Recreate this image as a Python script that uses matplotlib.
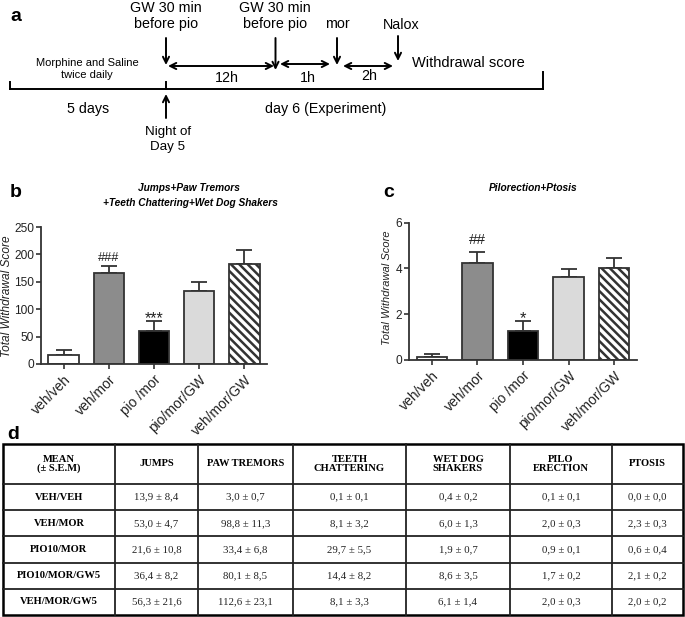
import matplotlib
matplotlib.use('Agg')
import matplotlib.pyplot as plt
from matplotlib.patches import Rectangle

plt.rcParams['font.family'] = ['Liberation Sans', 'DejaVu Sans']
plt.rcParams['hatch.linewidth'] = 1.8

# ---------------- data ----------------
groups = ['veh/veh', 'veh/mor', 'pio /mor', 'pio/mor/GW', 'veh/mor/GW']
b_means = [17, 166, 61, 133, 182]
b_sem = [9, 13, 18, 17, 26]
b_marks = ['', '###', '***', '', '']
c_means = [0.15, 4.26, 1.28, 3.64, 4.03]
c_sem = [0.13, 0.46, 0.42, 0.33, 0.41]
c_marks = ['', '##', '*', '', '']
b_yticks = [0, 50, 100, 150, 200, 250]
c_yticks = [0, 2, 4, 6]

table_header = ['MEAN\n(\u00b1 S.E.M)', 'JUMPS', 'PAW TREMORS', 'TEETH\nCHATTERING',
                'WET DOG\nSHAKERS', 'PILO\nERECTION', 'PTOSIS']
table_rows = ['VEH/VEH', 'VEH/MOR', 'PIO10/MOR', 'PIO10/MOR/GW5', 'VEH/MOR/GW5']
jumps = ['13,9 \u00b1 8,4', '53,0 \u00b1 4,7', '21,6 \u00b1 10,8', '36,4 \u00b1 8,2', '56,3 \u00b1 21,6']
paw = ['3,0 \u00b1 0,7', '98,8 \u00b1 11,3', '33,4 \u00b1 6,8', '80,1 \u00b1 8,5', '112,6 \u00b1 23,1']
teeth = ['0,1 \u00b1 0,1', '8,1 \u00b1 3,2', '29,7 \u00b1 5,5', '14,4 \u00b1 8,2', '8,1 \u00b1 3,3']
wetdog = ['0,4 \u00b1 0,2', '6,0 \u00b1 1,3', '1,9 \u00b1 0,7', '8,6 \u00b1 3,5', '6,1 \u00b1 1,4']
pilo = ['0,1 \u00b1 0,1', '2,0 \u00b1 0,3', '0,9 \u00b1 0,1', '1,7 \u00b1 0,2', '2,0 \u00b1 0,3']
ptosis = ['0,0 \u00b1 0,0', '2,3 \u00b1 0,3', '0,6 \u00b1 0,4', '2,1 \u00b1 0,2', '2,0 \u00b1 0,2']

# ---------------- figure ----------------
W, H = 685, 617
fig = plt.figure(figsize=(W / 100, H / 100), dpi=100)
ov = fig.add_axes([0, 0, 1, 1], zorder=0)
ov.set_xlim(0, W)
ov.set_ylim(H, 0)
ov.axis('off')


def rect(l, r, top, bottom):
    return [l / W, 1 - bottom / H, (r - l) / W, (bottom - top) / H]


def arrow(x0, y0, x1, y1, style='->'):
    ov.annotate('', xy=(x1, y1), xytext=(x0, y0),
                arrowprops=dict(arrowstyle=style, lw=1.4, color='black',
                                shrinkA=0, shrinkB=0, mutation_scale=11))


# ---------------- panel a ----------------
fs_a = 10.3
ov.text(10, 21, 'a', fontsize=14, fontweight='bold', va='baseline')
ov.plot([10, 543], [89, 89], color='black', lw=1.4)
ov.plot([10, 10], [82, 89], color='black', lw=1.4)
ov.plot([166, 166], [82, 89], color='black', lw=1.4)
ov.plot([543, 543], [72, 89], color='black', lw=1.4)

ov.text(87, 66, 'Morphine and Saline', fontsize=8, ha='center', va='baseline')
ov.text(87, 77.5, 'twice daily', fontsize=8, ha='center', va='baseline')
ov.text(88, 113, '5 days', fontsize=fs_a, ha='center', va='baseline')
ov.text(326, 113, 'day 6 (Experiment)', fontsize=fs_a, ha='center', va='baseline')
ov.text(168, 135, 'Night of', fontsize=9.6, ha='center', va='baseline')
ov.text(168, 150, 'Day 5', fontsize=9.6, ha='center', va='baseline')
arrow(166, 118, 166, 94)

for xc in (166, 275):
    ov.text(xc, 12, 'GW 30 min', fontsize=fs_a, ha='center', va='baseline')
    ov.text(xc, 28, 'before pio', fontsize=fs_a, ha='center', va='baseline')
ov.text(337, 28, 'mor', fontsize=fs_a, ha='center', va='baseline')
ov.text(401, 29, 'Nalox', fontsize=fs_a, ha='center', va='baseline')
ov.text(412, 67, 'Withdrawal score', fontsize=10.5, ha='left', va='baseline')

arrow(166, 38, 166, 65)
arrow(275.5, 38, 275.5, 70)
arrow(337, 38, 337, 65)
arrow(398, 36, 398, 61)

arrow(168, 66, 274, 66, '<->')
arrow(280, 64, 330, 64, '<->')
arrow(343, 66, 393, 66, '<->')
ov.text(227, 82, '12h', fontsize=fs_a, ha='center', va='baseline')
ov.text(308, 82, '1h', fontsize=fs_a, ha='center', va='baseline')
ov.text(369, 80, '2h', fontsize=fs_a, ha='center', va='baseline')

# ---------------- panels b, c ----------------
fills = ['white', '#8c8c8c', 'black', '#dadada', 'white']
edge = '#333333'


def bar_panel(r, means, sems, marks, ylim, yticks, hash_fs, star_fs, hash_off):
    ax = fig.add_axes(r, zorder=2)
    ax.set_facecolor('none')
    x = list(range(len(groups)))
    bars = ax.bar(x, means, width=0.67, color=fills, edgecolor=edge,
                  linewidth=1.3, zorder=2)
    bars[-1].set_hatch('\\\\\\\\')
    ax.errorbar(x, means, yerr=[[0] * len(sems), sems], fmt='none',
                ecolor=edge, elinewidth=1.3, capsize=5.5, capthick=1.3, zorder=1)
    for i, m in enumerate(marks):
        if m:
            is_hash = m.startswith('#')
            ax.annotate(m, (i, means[i] + sems[i]),
                        xytext=(0, hash_off if is_hash else -1.5),
                        textcoords='offset points', ha='center', va='baseline',
                        fontsize=hash_fs if is_hash else star_fs, color='#222222')
    ax.set_xlim(-0.5, 4.5)
    ax.set_ylim(*ylim)
    ax.set_yticks(yticks)
    ax.set_xticks(x)
    ax.set_xticklabels(groups, rotation=45, ha='right', rotation_mode='anchor')
    for s in ('top', 'right'):
        ax.spines[s].set_visible(False)
    for s in ('left', 'bottom'):
        ax.spines[s].set_color(edge)
        ax.spines[s].set_linewidth(1.3)
    ax.tick_params(axis='both', direction='out', length=3.5, width=1.2,
                   color=edge, labelcolor='#222222')
    ax.tick_params(axis='y', labelsize=8.6, pad=1.5)
    ax.tick_params(axis='x', labelsize=10, pad=2.5)
    return ax


bar_panel(rect(41, 267, 227, 364), b_means, b_sem, b_marks, (0, 250),
          b_yticks, 9.2, 11.5, 3.7)
bar_panel(rect(409, 637, 222.7, 360), c_means, c_sem, c_marks, (0, 6),
          c_yticks, 11, 12, 5.8)

ov.text(10, 197, 'b', fontsize=14, fontweight='bold', va='baseline')
ov.text(383, 197, 'c', fontsize=14, fontweight='bold', va='baseline')
ov.text(189, 191, 'Jumps+Paw Tremors', fontsize=7.3, fontweight='bold',
        fontstyle='italic', ha='center', va='baseline')
ov.text(190, 206, '+Teeth Chattering+Wet Dog Shakers', fontsize=7.3,
        fontweight='bold', fontstyle='italic', ha='center', va='baseline')
ov.text(533, 191, 'Pilorection+Ptosis', fontsize=7.3, fontweight='bold',
        fontstyle='italic', ha='center', va='baseline')
ov.text(7, 296, 'Total Withdrawal Score', fontsize=8.6, fontstyle='italic',
        rotation=90, ha='center', va='center', color='#222222')
ov.text(387, 288, 'Total Withdrawal Score', fontsize=8, fontstyle='italic',
        rotation=90, ha='center', va='center', color='#222222')

# ---------------- panel d (table) ----------------
ov.text(7, 439, 'd', fontsize=14, fontweight='bold', va='baseline')
col_edges = [3, 115, 198, 293, 406, 510, 612, 683]
row_edges = [444, 484, 510.2, 536.4, 562.6, 588.8, 615]
for xe in col_edges[1:-1]:
    ov.plot([xe, xe], [row_edges[0], row_edges[-1]], color='#222222', lw=1.3)
for ye in row_edges[1:-1]:
    ov.plot([col_edges[0], col_edges[-1]], [ye, ye], color='#222222', lw=1.3)
ov.add_patch(Rectangle((col_edges[0], row_edges[0]), col_edges[-1] - col_edges[0],
                       row_edges[-1] - row_edges[0], fill=False,
                       edgecolor='black', lw=1.8))

serif = ['Liberation Serif', 'DejaVu Serif']
cx = [(col_edges[i] + col_edges[i + 1]) / 2 for i in range(len(col_edges) - 1)]
ry = [(row_edges[i] + row_edges[i + 1]) / 2 for i in range(len(row_edges) - 1)]
for j, h in enumerate(table_header):
    ov.text(cx[j], ry[0], h, family=serif, fontsize=7.6, fontweight='bold',
            ha='center', va='center', multialignment='center', linespacing=1.0)
columns = [jumps, paw, teeth, wetdog, pilo, ptosis]
for i, name in enumerate(table_rows):
    ov.text(cx[0], ry[i + 1], name, family=serif, fontsize=7.6,
            fontweight='bold', ha='center', va='center')
    for j, col in enumerate(columns):
        ov.text(cx[j + 1], ry[i + 1], col[i], family=serif, fontsize=7.8,
                ha='center', va='center', color='#222222')

fig.savefig('out.png', dpi=100)
